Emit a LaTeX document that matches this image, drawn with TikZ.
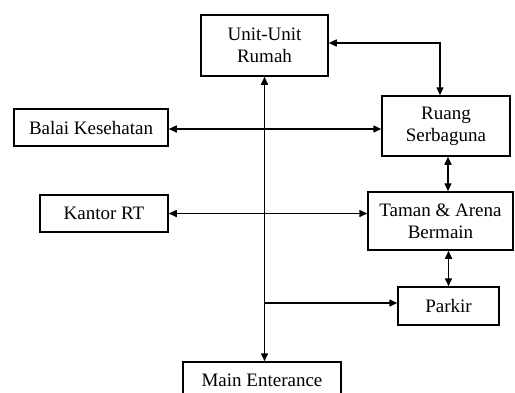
\documentclass[tikz,border=0pt]{standalone}
\usepackage{fontspec}
\setmainfont{Liberation Serif}
\usetikzlibrary{arrows.meta}
\tikzset{
  box/.style={draw, line width=1.5pt, rectangle, inner sep=0pt, align=center,
    font=\fontsize{19}{22}\selectfont},
  conn/.style={line width=1.5pt, {Triangle[length=8pt,width=7pt]}-{Triangle[length=8pt,width=7pt]}},
  oneway/.style={line width=1.5pt, -{Triangle[length=8pt,width=7pt]}}
}
\begin{document}
\begin{tikzpicture}[x=1pt,y=-1pt]
\useasboundingbox[fill=white] (0,0) rectangle (515,392);
\node[box, minimum width=127pt, minimum height=61pt] (unit) at (264.5,45.5) {Unit-Unit\\Rumah};
\node[box, minimum width=128pt, minimum height=60pt] (ruang) at (446,126) {Ruang\\Serbaguna};
\node[box, minimum width=154pt, minimum height=37pt] (balai) at (91,127.5) {Balai Kesehatan};
\node[box, minimum width=128pt, minimum height=37pt] (kantor) at (104,213.5) {Kantor RT};
\node[box, minimum width=145pt, minimum height=58pt] (taman) at (440.5,221) {Taman \& Arena\\Bermain};
\node[box, minimum width=101pt, minimum height=38pt] (parkir) at (448.5,306) {Parkir};
\node[box, minimum width=158pt, minimum height=36pt] (main) at (262,380) {Main Enterance};
\coordinate (j) at (unit.south |- parkir.west);
\draw[conn] ([yshift=2.5pt]unit.east) -| ([xshift=-6pt]ruang.north);
\draw[conn] (unit.south) -- (unit.south |- main.north);
\draw[conn] ([yshift=-1.5pt]balai.east) -- ([yshift=-1.5pt]balai.east -| ruang.west);
\draw[conn] (kantor.east) -- (kantor.east -| taman.west);
\draw[conn] ([xshift=2pt]ruang.south) -- ([xshift=2pt]ruang.south |- taman.north);
\draw[conn] (parkir.north |- taman.south) -- (parkir.north);
\draw[oneway] ([yshift=3pt]j) -- ([yshift=3pt]parkir.west);
\end{tikzpicture}
\end{document}
